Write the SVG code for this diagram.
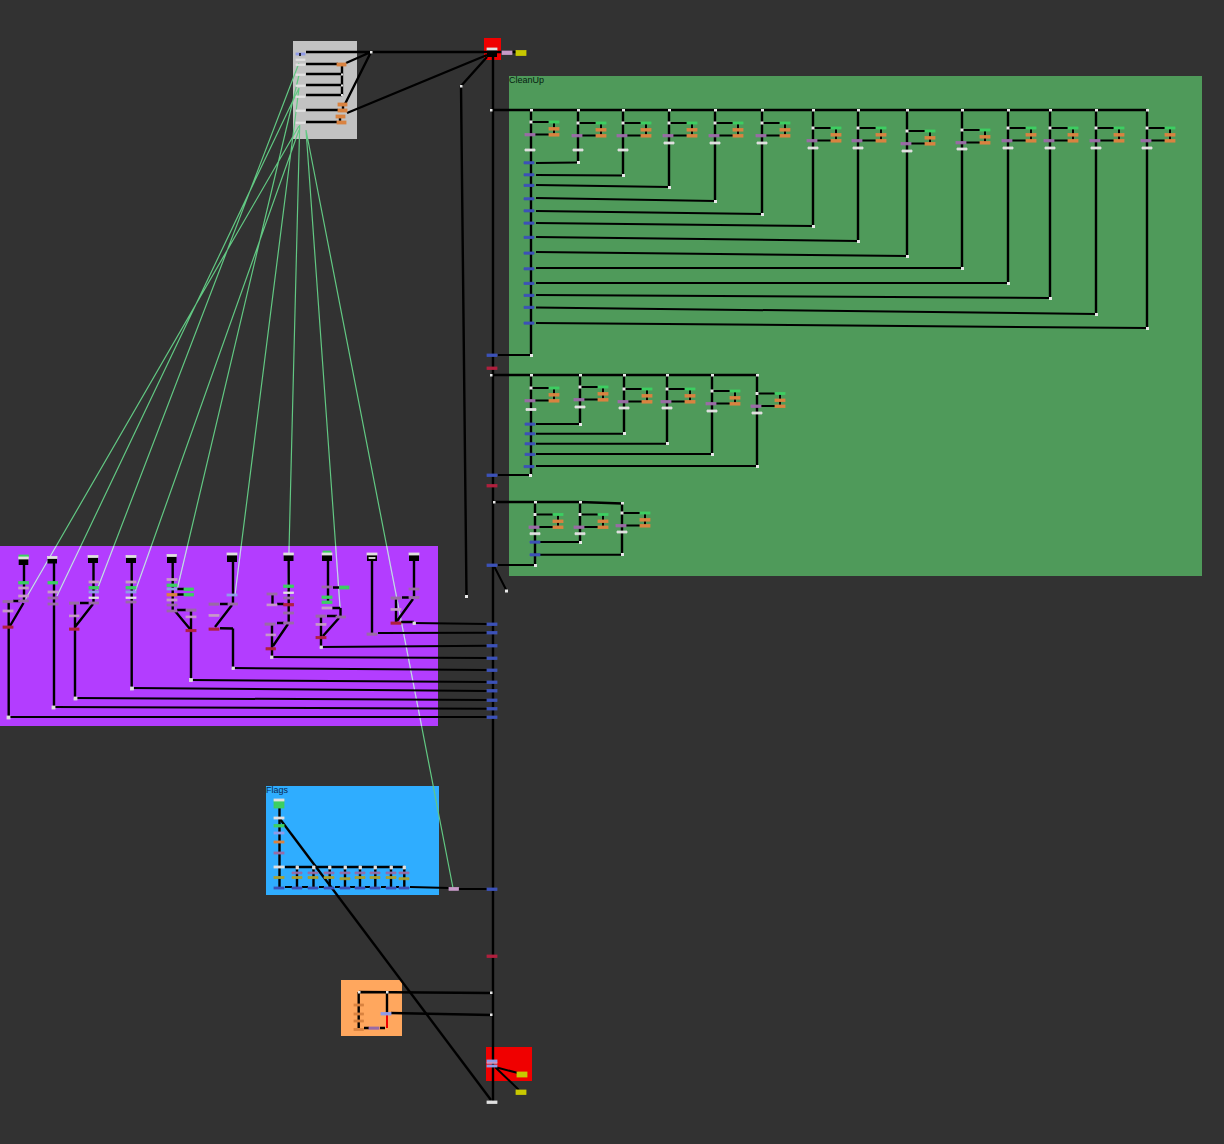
<svg xmlns="http://www.w3.org/2000/svg" xmlns:xlink="http://www.w3.org/1999/xlink" width="1224" height="1144" viewBox="0 0 1224 1144">
<style>
.w{fill:none;stroke:#000;stroke-width:2.4}
.t{fill:none;stroke:#000;stroke-width:2}
.sig{fill:none;stroke-width:1.2}
.d{fill:#e8e8e8}
.P,.Q,.W,.B,.R,.O,.G,.Y,.L,.V{stroke-width:.8}
.P{fill:#9a6ba6;stroke:#9a6ba6}.Q{fill:#c79ac8;stroke:#c79ac8}.W{fill:#e0e0e0;stroke:#e0e0e0}.B{fill:#3c52b8;stroke:#3c52b8}.R{fill:#b0203e;stroke:#b0203e}.O{fill:#d98340;stroke:#d98340}.G{fill:#3ccf62;stroke:#3ccf62}.Y{fill:#c8c800;stroke:#c8c800}.K{fill:#000}.L{fill:#8f9be8;stroke:#8f9be8}.V{fill:#a8a030;stroke:#a8a030}
text{font-family:"Liberation Sans",Arial,sans-serif;font-size:9px;fill:#062010}
</style>
<defs>
<g id="uc"><path class="t" d="M0 0H19M23 0V12.5M4 12.5H19"/></g>
<g id="un"><rect class="d" x="-1.5" y="-1.5" width="3" height="3"/><rect class="G" x="18" y="-1" width="10" height="2"/><rect class="O" x="18" y="5.5" width="10" height="2.6"/><rect class="O" x="18" y="11.5" width="10" height="2.6"/><rect class="P" x="-6" y="11.5" width="10" height="2.4"/></g>
<path id="sl" d="M25 600L299 126M57 596L299 88M97 590L299 63M135 592L299 130M177 590L299 75M235 595L299 88M288 590L299.7 125M340 607L306 130M453 888L306 130"/>
<clipPath id="pc"><rect x="0" y="546" width="438" height="180"/></clipPath>
</defs>
<rect width="1224" height="1144" fill="#323232"/>
<g id="boxes">
<rect id="box-gray" x="293" y="41" width="64" height="98" fill="#c2c2c2"/>
<rect id="box-red-top" x="484" y="38" width="17" height="22" fill="#f00000"/>
<g id="box-cleanup"><rect x="509" y="76" width="693" height="500" fill="#4f9a5a"/><text x="509" y="83">CleanUp</text></g>
<rect id="box-purple" x="0" y="546" width="438" height="180" fill="#b33dff"/>
<g id="box-flags"><rect x="266" y="786" width="173" height="109" fill="#2fadff"/><text x="266" y="793" style="fill:#0b2a50">Flags</text></g>
<rect id="box-orange" x="341" y="980" width="61" height="56" fill="#ffa75e"/>
<rect id="box-red-bottom" x="486" y="1047" width="46" height="34" fill="#f00000"/>
</g>
<g id="signals">
<use href="#sl" class="sig" stroke="#62c883"/>
<use href="#sl" class="sig" stroke="#d4c2ff" clip-path="url(#pc)"/>
</g>
<g id="connectors">
<path class="w" d="M493 57V1102M306 52H487M497 52H516M306 64H338M306 74H342M306 85H342M306 95H342M342 64V95M306 110H338M306 122H337M343 104V110M340 116V122M346 63L371 52M345 104L371 52M347 113L487 55M487 57L461 86M461 86L466.500 596"/>
<!-- cleanup row 1 -->
<path class="w" d="M491 110H1147M531 110V354M578 110V162M623 110V175M669 110V187M715 110V201M762 110V214M813 110V226M858 110V241M907 110V256M962 110V268M1008 110V283M1050 110V298M1096 110V314M1147 110V328"/>
<path class="t" d="M536 163L578 162.500M536 175L623 175.500M536 185L669 187M536 198L715 201M536 211L762 214M536 223L813 226M536 237L858 241M536 252L907 256M536 268L962 268M536 283L1008 283M536 295L1050 298M536 307.500L1096 314M536 323L1147 328M498 355H531"/>
<use href="#uc" x="531" y="122"/><use href="#uc" x="578" y="123"/><use href="#uc" x="623" y="123"/><use href="#uc" x="669" y="123"/><use href="#uc" x="715" y="123"/><use href="#uc" x="762" y="123"/><use href="#uc" x="813" y="128"/><use href="#uc" x="858" y="128"/><use href="#uc" x="907" y="131"/><use href="#uc" x="962" y="130"/><use href="#uc" x="1008" y="128"/><use href="#uc" x="1050" y="128"/><use href="#uc" x="1096" y="128"/><use href="#uc" x="1147" y="128"/>
<!-- cleanup row 2 -->
<path class="w" d="M491 375H757M531 375V475M580 375V424M624 375V434M667 375V444M712 375V454M757 375V466"/>
<path class="t" d="M536 424H580M536 433.700H624M536 443.700H667M536 454H712M536 466H757M498 475H530"/>
<use href="#uc" x="531" y="388"/><use href="#uc" x="580" y="387"/><use href="#uc" x="624" y="389"/><use href="#uc" x="667" y="389"/><use href="#uc" x="712" y="391"/><use href="#uc" x="757" y="393.500"/>
<!-- cleanup row 3 -->
<path class="w" d="M494 502H580L622 503.500M535 502V565M580 502V542M622 503V554"/>
<path class="t" d="M536 542H580M536 554.700H622M498 565H535M494 566L506.500 590.500"/>
<use href="#uc" x="535" y="514.500"/><use href="#uc" x="580" y="514.500"/><use href="#uc" x="622" y="513"/>
<!-- purple -->
<path class="w" d="M24 565V601M23.500 603L10 626M8.700 601V717M13 601H20M54 563V707M93.500 563V603M75 603V698M80 603H89M93 604L75 627M131.700 563V688M172.700 563V611M175 611L190 629M191 610V680M177 610H186M177 589H184M177 594.500H184M233 562V604M220 604H228M232 605L215 627M220 628.300L233 628.500M233 628.500V668M288.700 561V623M272.500 595V604M277 604H284M277 623H284M288 624L273 646M272 624V657M328 561V603M333 587.500H339M332 608H340M340.500 608V616M327 616H337M339 618L323 636M321 616V647M372 561V633M414 561V597M402 597.500H409M413 599L397 621M396 598V623M401 622H414"/>
<path class="t" d="M414 623L487 624M378 633L487 632.700M321 647L487 645.700M272 657L487 658M233 668L487 670M191 680L487 682M131.700 688L487 691M75 698L487 700M54 707L487 708.700M8 717H487"/>
<!-- flags -->
<path class="w" d="M279.500 807V888M285 867H404M297 867V888M313.500 867V888M329.700 867V888M345 867V888M360 867V888M375.300 867V888M391 867V888M404.300 867V888"/>
<path class="t" d="M285 887H292M302 887H308M319 887H324M335 887H340M350 887H355M365 887H370M381 887H386M396 887H399M410 887L449 888M458 889H487"/>
<path class="w" d="M280 819L491 1100"/>
<!-- orange -->
<path class="w" d="M359 992L491 993M358.700 992V1028M387 992V1013M391 1013L491 1015M364 1028H369M380 1028H385"/>
<path d="M387 1014V1028" fill="none" stroke="#f00000" stroke-width="2"/>
<path class="t" d="M495 1067L518 1073M495 1067L519 1090"/>
</g>
<g id="nodes">
<g id="gray-node"><rect class="L" x="296" y="53" width="9" height="2"/><rect x="299" y="53" width="2" height="3" fill="#223"/><rect class="W" x="296" y="59" width="9" height="1.500"/><rect class="W" x="296" y="64" width="9" height="1.500"/><rect class="W" x="296" y="74" width="9" height="1.500"/><rect class="W" x="296" y="85" width="9" height="1.500"/><rect class="W" x="296" y="96" width="9" height="1.500"/><rect class="W" x="296" y="110" width="9" height="1.500"/><rect class="W" x="296" y="122" width="9" height="1.500"/><rect class="O" x="337" y="63" width="9" height="3"/><rect class="O" x="338" y="103" width="9" height="3"/><rect class="O" x="338" y="109" width="9" height="3"/><rect class="O" x="336" y="115" width="9" height="3"/><rect class="O" x="337" y="121" width="9" height="3"/><rect class="d" x="341" y="73.500" width="2" height="2"/><rect class="d" x="341" y="84.500" width="2" height="2"/><rect class="d" x="341" y="94" width="2" height="2"/><rect class="d" x="370" y="51" width="2.500" height="2.500"/></g>
<g id="top-node"><rect class="K" x="487" y="50" width="10" height="7"/><rect class="W" x="487" y="48" width="10" height="2"/><rect class="Q" x="502" y="51" width="10" height="3.500"/><rect class="Y" x="516" y="50.500" width="10" height="5"/><rect class="d" x="460" y="85" width="2.500" height="2.500"/><rect class="d" x="465" y="595" width="3" height="3"/><rect class="d" x="505" y="589.500" width="3" height="3"/></g>
<g id="main-bars"><rect class="B" x="487" y="354" width="10" height="2.500"/><rect class="R" x="487" y="367" width="10" height="2.500"/><rect class="B" x="487" y="474" width="10" height="2.500"/><rect class="R" x="487" y="484.500" width="10" height="2.500"/><rect class="B" x="487" y="564" width="10" height="2.500"/><rect class="B" x="487" y="623" width="10" height="2.500"/><rect class="B" x="487" y="631.500" width="10" height="2.500"/><rect class="B" x="487" y="644.500" width="10" height="2.500"/><rect class="B" x="487" y="657" width="10" height="2.500"/><rect class="B" x="487" y="669" width="10" height="2.500"/><rect class="B" x="487" y="681" width="10" height="2.500"/><rect class="B" x="487" y="689.500" width="10" height="2.500"/><rect class="B" x="487" y="699" width="10" height="2.500"/><rect class="B" x="487" y="707.500" width="10" height="2.500"/><rect class="B" x="487" y="716" width="10" height="2.500"/><rect class="B" x="487" y="888" width="10" height="2.500"/><rect class="R" x="487" y="955" width="10" height="2.500"/><rect class="W" x="487" y="1101" width="10" height="2.500"/><rect class="d" x="490" y="109" width="2.500" height="2.500"/><rect class="d" x="490" y="374" width="2.500" height="2.500"/><rect class="d" x="493" y="501" width="2.500" height="2.500"/></g>
<g id="cleanup-row1">
<use href="#un" x="531" y="122"/><use href="#un" x="578" y="123"/><use href="#un" x="623" y="123"/><use href="#un" x="669" y="123"/><use href="#un" x="715" y="123"/><use href="#un" x="762" y="123"/><use href="#un" x="813" y="128"/><use href="#un" x="858" y="128"/><use href="#un" x="907" y="131"/><use href="#un" x="962" y="130"/><use href="#un" x="1008" y="128"/><use href="#un" x="1050" y="128"/><use href="#un" x="1096" y="128"/><use href="#un" x="1147" y="128"/>
<path class="W" d="M525 149h10v2h-10zM573 149h10v2h-10zM618 149h10v2h-10zM664 142h10v2h-10zM710 142h10v2h-10zM757 142h10v2h-10zM808 147h10v2h-10zM853 147h10v2h-10zM902 150h10v2h-10zM957 148h10v2h-10zM1003 147h10v2h-10zM1045 147h10v2h-10zM1091 147h10v2h-10zM1142 147h10v2h-10z"/>
<path class="B" d="M524 161.700h10v2.200h-10zM524 173.700h10v2.200h-10zM524 184.300h10v2.200h-10zM524 197.700h10v2.200h-10zM524 209.700h10v2.200h-10zM524 222h10v2.200h-10zM524 236.300h10v2.200h-10zM524 252h10v2.200h-10zM524 267.700h10v2.200h-10zM524 282.300h10v2.200h-10zM524 294.300h10v2.200h-10zM524 306.300h10v2.200h-10zM524 322h10v2.200h-10z"/>
<path class="d" d="M577 161h3v3h-3zM622 174h3v3h-3zM668 186h3v3h-3zM714 200h3v3h-3zM761 213h3v3h-3zM812 225h3v3h-3zM857 240h3v3h-3zM906 255h3v3h-3zM961 267h3v3h-3zM1007 282h3v3h-3zM1049 297h3v3h-3zM1095 313h3v3h-3zM1146 327h3v3h-3zM530 354h3v3h-3zM530 109h3v2.500h-3zM577 109h3v2.500h-3zM622 109h3v2.500h-3zM668 109h3v2.500h-3zM714 109h3v2.500h-3zM761 109h3v2.500h-3zM812 109h3v2.500h-3zM857 109h3v2.500h-3zM906 109h3v2.500h-3zM961 109h3v2.500h-3zM1007 109h3v2.500h-3zM1049 109h3v2.500h-3zM1095 109h3v2.500h-3zM1146 109h3v2.500h-3z"/>
</g>
<g id="cleanup-row2">
<use href="#un" x="531" y="388"/><use href="#un" x="580" y="387"/><use href="#un" x="624" y="389"/><use href="#un" x="667" y="389"/><use href="#un" x="712" y="391"/><use href="#un" x="757" y="393.500"/>
<path class="W" d="M526 408.500h10v2h-10zM575 406h10v2h-10zM619 407h10v2h-10zM662 407h10v2h-10zM707 410h10v2h-10zM752 412h10v2h-10z"/>
<path class="B" d="M525 423h10v2.200h-10zM525 432.700h10v2.200h-10zM525 442.700h10v2.200h-10zM525 453.300h10v2.200h-10zM524 465.500h10v2.200h-10z"/>
<path class="d" d="M530 374h3v2.500h-3zM579 374h3v2.500h-3zM623 374h3v2.500h-3zM666 374h3v2.500h-3zM711 374h3v2.500h-3zM756 374h3v2.500h-3zM579 423h3v3h-3zM623 432h3v3h-3zM666 442h3v3h-3zM711 453h3v3h-3zM756 465h3v3h-3zM529 474h3v3h-3z"/>
</g>
<g id="cleanup-row3">
<use href="#un" x="535" y="514.500"/><use href="#un" x="580" y="514.500"/><use href="#un" x="622" y="513"/>
<path class="W" d="M530 532.700h10v2h-10zM575 532.700h10v2h-10zM617 531h10v2h-10z"/>
<path class="B" d="M530 541h10v2.200h-10zM530 553.700h10v2.200h-10z"/>
<path class="d" d="M534 501h3v2.500h-3zM579 501h3v2.500h-3zM621 502h3v2.500h-3zM579 541h3v3h-3zM621 553h3v3h-3zM534 564h3v3h-3z"/>
</g>
<g id="col-a"><rect class="G" x="19" y="555" width="9.500" height="2.500"/><rect class="K" x="18.700" y="558" width="9.600" height="7"/><rect class="W" x="18.700" y="557" width="9.600" height="2"/><rect class="G" x="18.700" y="581.500" width="9.600" height="2.500"/><rect class="Q" x="18.700" y="587" width="9.600" height="2"/><rect class="Q" x="18.700" y="595" width="9.600" height="2"/><rect class="P" x="18.700" y="600" width="9.600" height="2"/><rect class="P" x="3" y="600.500" width="10" height="2.200"/><rect class="Q" x="3" y="610" width="10" height="2"/><rect class="R" x="3" y="626" width="10" height="2.200"/><rect class="W" x="7" y="716" width="3" height="3"/></g>
<g id="col-b"><rect class="K" x="47.500" y="557" width="9.500" height="6.500"/><rect class="W" x="47.500" y="556.500" width="9.500" height="2"/><rect class="G" x="48" y="581.500" width="9.600" height="2.500"/><rect class="Q" x="48" y="591" width="10" height="2"/><rect class="P" x="48" y="597" width="10" height="2"/><rect class="P" x="48" y="603" width="10" height="2"/><rect class="W" x="52" y="706" width="3" height="3"/></g>
<g id="col-c"><rect class="K" x="88" y="556" width="10" height="7"/><rect class="W" x="88" y="555.500" width="10" height="2"/><rect class="Q" x="89" y="581" width="9.500" height="2"/><rect class="G" x="89" y="586.500" width="9.500" height="2.500"/><rect class="L" x="89" y="591" width="9.500" height="2"/><rect class="W" x="89" y="597" width="9.500" height="1.600"/><rect class="P" x="89" y="602" width="9.500" height="2"/><rect class="P" x="69.500" y="602" width="9.500" height="2.200"/><rect class="Q" x="69.500" y="615" width="9.500" height="1.800"/><rect class="R" x="69.500" y="628" width="9.500" height="2.200"/><rect class="W" x="74" y="697" width="3" height="3"/></g>
<g id="col-d"><rect class="K" x="126" y="556" width="10" height="7"/><rect class="W" x="126" y="555.500" width="10" height="2"/><rect class="Q" x="126" y="581" width="10" height="2"/><rect class="G" x="126" y="586.500" width="10" height="2.500"/><rect class="L" x="126" y="591" width="10" height="2"/><rect class="W" x="126" y="597" width="10" height="1.600"/><rect class="P" x="126" y="601" width="10" height="2"/><rect class="W" x="130.500" y="687" width="3" height="3"/></g>
<g id="col-e"><rect class="K" x="167" y="555" width="9.500" height="8"/><rect class="W" x="167" y="554.500" width="9.500" height="2"/><rect class="Q" x="167" y="578.500" width="10" height="2"/><rect class="G" x="167" y="584" width="10" height="2.500"/><rect class="L" x="167" y="588" width="10" height="2"/><rect class="O" x="167" y="593.500" width="10" height="2.500"/><rect class="Q" x="167" y="599" width="10" height="2"/><rect class="P" x="167" y="604" width="10" height="2"/><rect class="P" x="167" y="610" width="10" height="2"/><rect class="G" x="184" y="588" width="9.500" height="2.500"/><rect class="G" x="184" y="593.500" width="9.500" height="2.500"/><rect class="P" x="186" y="609" width="10" height="2.200"/><rect class="Q" x="186" y="616" width="10" height="1.800"/><rect class="R" x="186" y="629.500" width="10" height="2.200"/><rect class="W" x="189.500" y="678.500" width="3" height="3"/></g>
<g id="col-f"><rect class="K" x="227" y="553" width="10" height="9"/><rect class="W" x="227" y="553" width="10" height="2"/><rect class="L" x="227" y="594" width="10" height="2"/><rect class="P" x="228" y="603" width="9.500" height="2"/><rect class="P" x="209" y="603" width="10" height="2.200"/><rect class="Q" x="209" y="614.500" width="10" height="1.800"/><rect class="R" x="209" y="628" width="10" height="2.200"/><rect class="W" x="232" y="667" width="2.500" height="2.500"/></g>
<g id="col-g"><rect class="K" x="283.700" y="553" width="9.800" height="8"/><rect class="W" x="283.700" y="553" width="9.800" height="2"/><rect class="G" x="283.700" y="585" width="9.800" height="2.500"/><rect class="W" x="283.700" y="592" width="9.800" height="1.600"/><rect class="P" x="283.700" y="597" width="9.800" height="2"/><rect class="R" x="283.700" y="603.500" width="9.800" height="2.400"/><rect class="P" x="283.700" y="612" width="9.800" height="2"/><rect class="P" x="283.700" y="622" width="9.800" height="2"/><rect class="P" x="267" y="593" width="10" height="2"/><rect class="Q" x="267" y="604" width="10" height="1.800"/><rect class="P" x="265" y="623" width="10" height="2.200"/><rect class="Q" x="266" y="634" width="9.500" height="1.800"/><rect class="R" x="266" y="647.700" width="9.500" height="2.200"/><rect class="W" x="270.500" y="656" width="2.500" height="2.500"/></g>
<g id="col-h"><rect class="G" x="323" y="551" width="8" height="2.500"/><rect class="K" x="322" y="553" width="10" height="8"/><rect class="W" x="322" y="553" width="10" height="2"/><rect class="P" x="322" y="586" width="10" height="2"/><rect class="G" x="339.500" y="586" width="9.500" height="3"/><rect class="G" x="322" y="596" width="10" height="2.500"/><rect class="G" x="322" y="601" width="10" height="2.500"/><rect class="Q" x="322" y="607" width="10" height="2"/><rect class="P" x="316" y="615" width="10" height="2.200"/><rect class="Q" x="316" y="623.500" width="10" height="1.800"/><rect class="R" x="316" y="636.500" width="10" height="2.200"/><rect class="P" x="336" y="616" width="9.500" height="2"/><rect class="W" x="320" y="646" width="2.500" height="2.500"/></g>
<g id="col-i"><rect class="K" x="367" y="553" width="10" height="8"/><rect class="W" x="367" y="553" width="10" height="2"/><rect class="W" x="369" y="557.500" width="6" height="1"/><rect class="P" x="367" y="633" width="10" height="2.200"/></g>
<g id="col-j"><rect class="K" x="409" y="553" width="10" height="8"/><rect class="W" x="409" y="553" width="10" height="2"/><rect class="P" x="409" y="588" width="10" height="2"/><rect class="P" x="409" y="596.500" width="10" height="2"/><rect class="P" x="391" y="597" width="10" height="2.200"/><rect class="Q" x="391" y="608.500" width="10" height="1.800"/><rect class="R" x="391" y="622" width="10" height="2.200"/><rect class="W" x="413" y="622" width="2.500" height="2.500"/></g>
<g id="flags-nodes"><rect class="G" x="274" y="800" width="10" height="8"/><rect class="W" x="274" y="799" width="10" height="2"/><rect class="W" x="274" y="817" width="10" height="2"/><rect class="G" x="274" y="824.500" width="10" height="2.500"/><rect class="L" x="274" y="832" width="10" height="2"/><rect class="O" x="274" y="841" width="10" height="2"/><rect class="P" x="274" y="852" width="10" height="2"/><rect class="W" x="274" y="866" width="10" height="2"/><rect class="V" x="274" y="876.500" width="10" height="2"/><rect class="B" x="274" y="887" width="10" height="2"/>
<path class="P" d="M292 872h10v1.800h-10zM308 872h10v1.800h-10zM324 872h10v1.800h-10zM340 872h10v1.800h-10zM355 872h10v1.800h-10zM370 872h10v1.800h-10zM386 872h10v1.800h-10zM399 872h10v1.800h-10z"/>
<path class="V" d="M292 876.500h10v2h-10zM308 876.500h10v2h-10zM324 876.500h10v2h-10zM340 877.700h10v2h-10zM355 876.500h10v2h-10zM370 876.500h10v2h-10zM386 876.500h10v2h-10zM399 877.700h10v2h-10z"/>
<path class="B" d="M292 887h10v2h-10zM308 887h10v2h-10zM324 887h10v2h-10zM340 887h10v2h-10zM355 887h10v2h-10zM370 887h10v2h-10zM386 887h10v2h-10zM399 887h10v2h-10z"/>
<path class="W" d="M296 866h2.500v3h-2.500zM312.500 866h2.500v3h-2.500zM328.500 866h2.500v3h-2.500zM344 866h2.500v3h-2.500zM359 866h2.500v3h-2.500zM374 866h2.500v3h-2.500zM390 866h2.500v3h-2.500zM403 866h2.500v3h-2.500z"/>
<rect class="Q" x="449" y="887.500" width="9.500" height="2.800"/></g>
<g id="orange-nodes"><rect class="O" x="354" y="1004" width="9.500" height="2"/><rect class="O" x="354" y="1013" width="9.500" height="2"/><rect class="O" x="354" y="1020" width="9.500" height="2"/><rect class="O" x="354" y="1028.500" width="9.500" height="2"/><rect class="P" x="369" y="1027" width="10" height="2.200"/><rect class="L" x="381" y="1012.500" width="10" height="2.500"/><rect class="d" x="386" y="991" width="2.500" height="2.500"/><rect class="d" x="358" y="991" width="2.500" height="2.500"/><rect class="d" x="490" y="991.500" width="2.500" height="2.500"/><rect class="d" x="490" y="1013.500" width="2.500" height="2.500"/></g>
<g id="bottom-nodes"><rect class="L" x="487" y="1060" width="10" height="2"/><rect class="L" x="487" y="1065" width="10" height="2"/><rect class="Q" x="487" y="1062.300" width="10" height="1"/><rect class="Y" x="517" y="1072" width="10" height="5"/><rect class="Y" x="516" y="1090" width="10" height="4.500"/></g>
</g>
</svg>
